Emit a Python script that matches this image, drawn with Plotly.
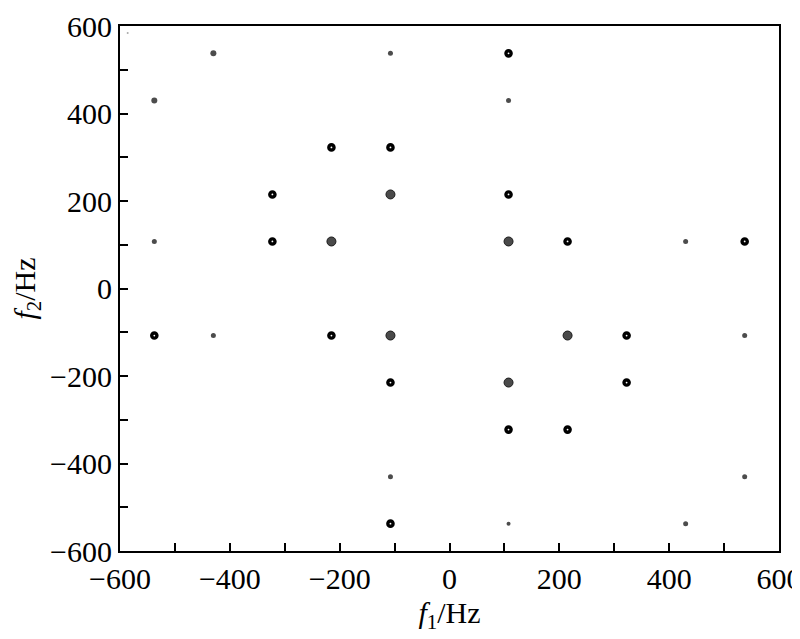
import plotly.graph_objects as go

# Ring-shaped (contour) peaks, black
ring_f1 = [107.5, -215, -107.5, -322.5, 107.5, -322.5, 215, 537.5,
           -537.5, -215, 322.5, -107.5, 322.5, 107.5, 215, -107.5]
ring_f2 = [537.5, 322.5, 322.5, 215, 215, 107.5, 107.5, 107.5,
           -107.5, -107.5, -107.5, -215, -215, -322.5, -322.5, -537.5]

# Grey smeared peaks
grey_f1 = [-107.5, -215, 107.5, -107.5, 215, 107.5]
grey_f2 = [215, 107.5, 107.5, -107.5, -107.5, -215]

# Small dot peaks
dot_f1 = [-430, -107.5, -537.5, 107.5, -537.5, 430, -430, 537.5,
          -107.5, 537.5, 107.5, 430]
dot_f2 = [537.5, 537.5, 430, 430, 107.5, 107.5, -107.5, -107.5,
          -430, -430, -537.5, -537.5]
dot_size = [6, 5, 6, 5, 5, 5, 5, 5, 5, 5, 4, 5]

# Faint speck near corner
speck_f1 = [-586]
speck_f2 = [584]

fig = go.Figure()
fig.add_trace(go.Scatter(x=ring_f1, y=ring_f2, mode="markers",
                         marker=dict(symbol="circle-open", size=5.2, color="black",
                                     line=dict(width=3.4, color="black"))))
fig.add_trace(go.Scatter(x=grey_f1, y=grey_f2, mode="markers",
                         marker=dict(symbol="circle", size=9, color="#4a4a4a",
                                     line=dict(width=1, color="#1a1a1a"))))
fig.add_trace(go.Scatter(x=dot_f1, y=dot_f2, mode="markers",
                         marker=dict(symbol="circle", size=dot_size, color="black",
                                     line=dict(width=0))))
fig.add_trace(go.Scatter(x=speck_f1, y=speck_f2, mode="markers",
                         marker=dict(symbol="circle", size=2, color="#aaaaaa",
                                     line=dict(width=0))))

font = dict(family="Liberation Serif, Times New Roman, serif", size=30, color="black")
axis_common = dict(
    range=[-600, 600], tickvals=[-600, -400, -200, 0, 200, 400, 600],
    ticktext=["\u2212600", "\u2212400", "\u2212200", "0", "200", "400", "600"],
    ticks="inside", ticklen=8, tickwidth=1.5, tickcolor="black",
    minor=dict(tickvals=[-500, -300, -100, 100, 300, 500], ticks="inside",
               ticklen=8, tickwidth=1.5, tickcolor="black"),
    showline=True, linecolor="black", linewidth=2, mirror=True,
    showgrid=False, zeroline=False, tickfont=font, automargin=False,
)
fig.update_xaxes(**axis_common,
                 title=dict(text="<i>f</i><sub>1</sub>/Hz", font=font, standoff=8))
fig.update_yaxes(**axis_common,
                 title=dict(text="<i>f</i><sub>2</sub>/Hz", font=font, standoff=10))
fig.update_layout(width=800, height=639, showlegend=False,
                  plot_bgcolor="white", paper_bgcolor="white",
                  margin=dict(l=112, r=29, t=18, b=96), font=font)
fig.write_html("out.html")
